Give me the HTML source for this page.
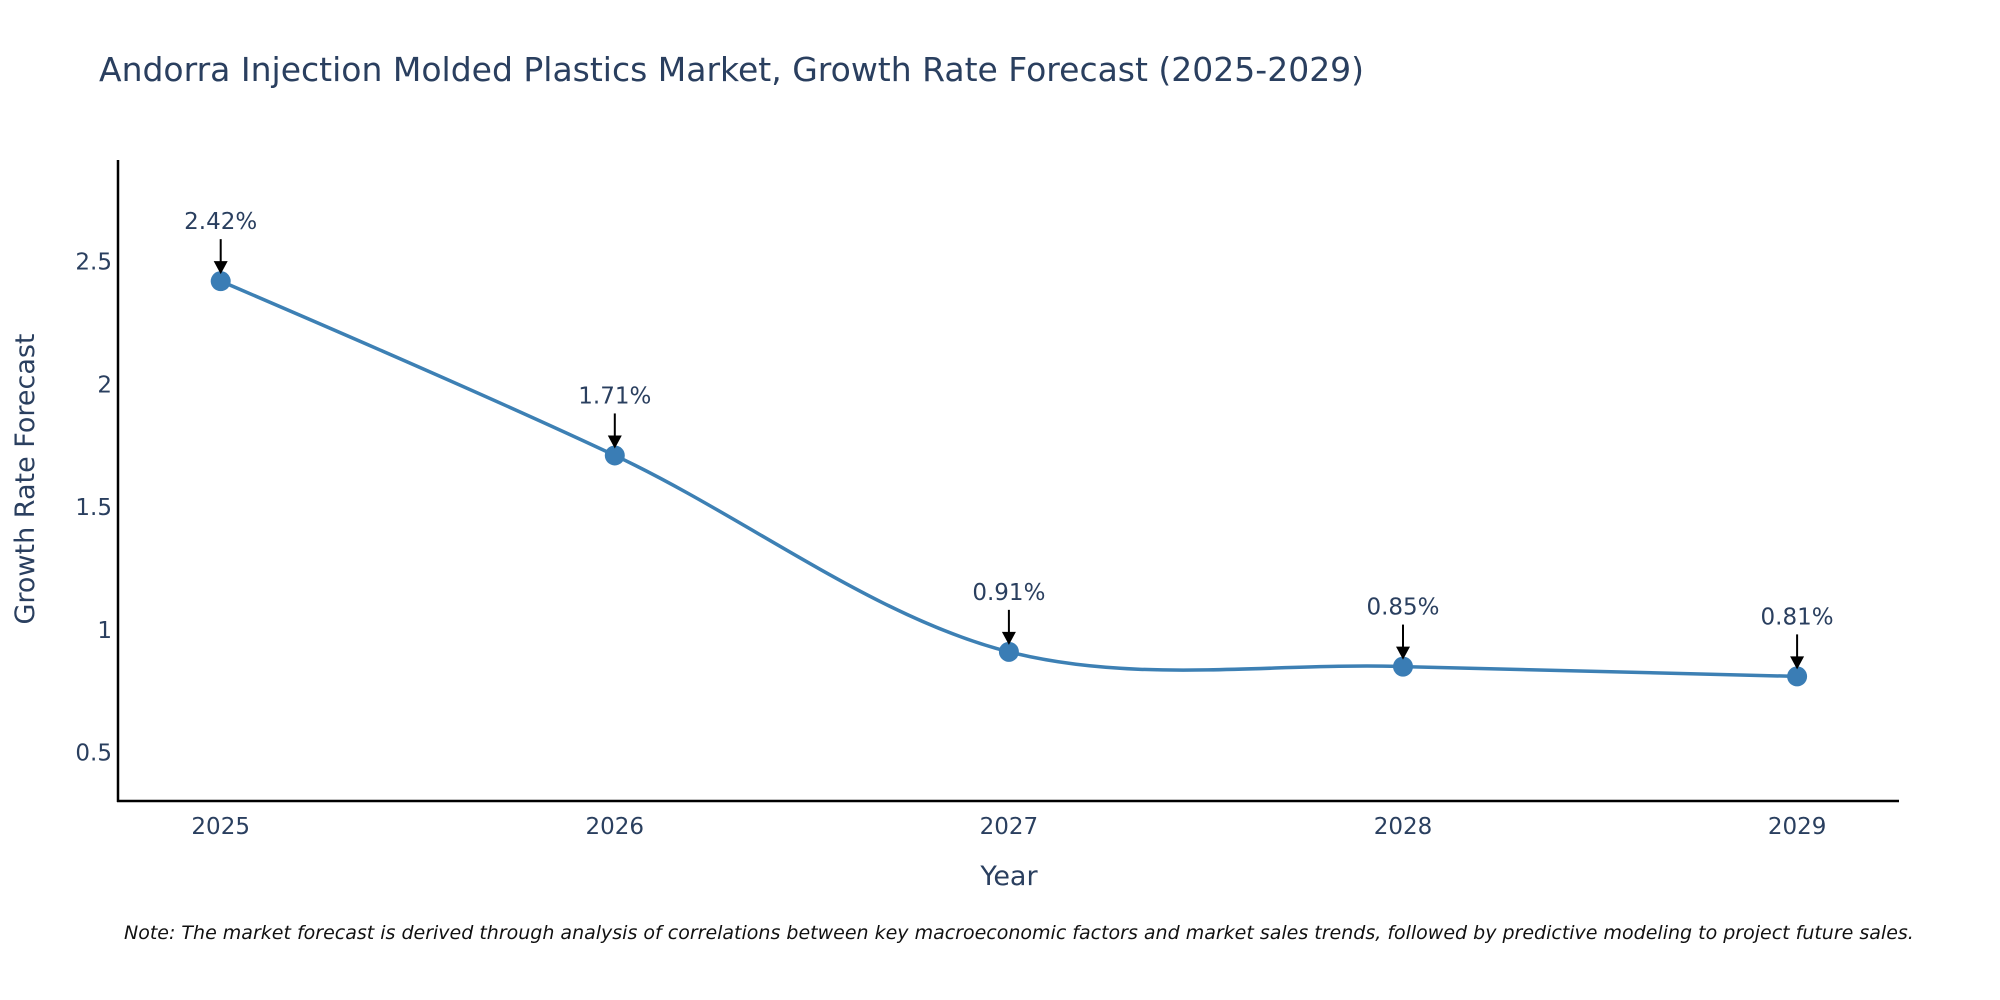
<!DOCTYPE html>
<html><head><meta charset="utf-8"><style>
body{margin:0;background:#fff;overflow:hidden}
svg{display:block;font-family:"DejaVu Sans","Liberation Sans",sans-serif}
</style></head><body>
<svg id="chart" width="2000" height="1000">
<text x="99" y="81" font-size="33" fill="#2a3f5f">Andorra Injection Molded Plastics Market, Growth Rate Forecast (2025-2029)</text>
<g id="yticks"></g><g id="xticks"></g>
<path id="line" fill="none" stroke="#3d80b4" stroke-width="3.5"></path>
<g id="marks"></g>
<line x1="118" y1="160" x2="118" y2="802" stroke="#000" stroke-width="2.5"/>
<line x1="117" y1="801" x2="1899" y2="801" stroke="#000" stroke-width="2.5"/>
<text x="34" y="479" font-size="27" fill="#2a3f5f" text-anchor="middle" transform="rotate(-90 34 479)">Growth Rate Forecast</text>
<text x="1009" y="885" font-size="27" fill="#2a3f5f" text-anchor="middle">Year</text>
<text x="124" y="939" font-size="19" font-style="italic" fill="#111">Note: The market forecast is derived through analysis of correlations between key macroeconomic factors and market sales trends, followed by predictive modeling to project future sales.</text>
</svg>
<script>
const years = [2025, 2026, 2027, 2028, 2029];
const values = [2.42, 1.71, 0.91, 0.85, 0.81];
const labels = ["2.42%", "1.71%", "0.91%", "0.85%", "0.81%"];
const yTicks = [0.5, 1, 1.5, 2, 2.5];
const yTickLabels = ["0.5", "1", "1.5", "2", "2.5"];

const NS = "http://www.w3.org/2000/svg";
const x = v => 220.7 + (v - 2025) * 394.1;
const y = v => 752.5 - (v - 0.5) * 245.5;
function mk(tag, attrs, parent, text) {
  const e = document.createElementNS(NS, tag);
  for (const k in attrs) e.setAttribute(k, attrs[k]);
  if (text !== undefined) e.textContent = text;
  parent.appendChild(e); return e;
}
const yt = document.getElementById('yticks');
yTicks.forEach((t, i) => {
  const e = mk('text', {x: 112, y: y(t) + 8, 'font-size': 23, fill: '#2a3f5f', 'text-anchor': 'end'}, yt, yTickLabels[i]);
  
  
});
const xt = document.getElementById('xticks');
years.forEach(yr => {
  const e = mk('text', {x: x(yr), y: 834, 'font-size': 23, fill: '#2a3f5f', 'text-anchor': 'middle'}, xt, String(yr));
  
  
});
const pts = years.map((yr, i) => [x(yr), y(values[i])]);
function tangent(p, t, n, s) {
  const d1x = p[0]-t[0], d1y = p[1]-t[1], d2x = n[0]-t[0], d2y = n[1]-t[1];
  const d1a = Math.pow(d1x*d1x+d1y*d1y, 0.25), d2a = Math.pow(d2x*d2x+d2y*d2y, 0.25);
  const nx = (d2a*d2a*d1x - d1a*d1a*d2x)*s, ny = (d2a*d2a*d1y - d1a*d1a*d2y)*s;
  const den1 = 3*d2a*(d1a+d2a), den2 = 3*d1a*(d1a+d2a);
  return [[t[0]+nx/den1, t[1]+ny/den1], [t[0]-nx/den2, t[1]-ny/den2]];
}
const tg = [];
for (let i = 1; i < pts.length - 1; i++) tg.push(tangent(pts[i-1], pts[i], pts[i+1], 1));
let d = 'M' + pts[0] + 'Q' + tg[0][0] + ' ' + pts[1];
for (let i = 2; i < pts.length - 1; i++) d += 'C' + tg[i-2][1] + ' ' + tg[i-1][0] + ' ' + pts[i];
d += 'Q' + tg[pts.length-3][1] + ' ' + pts[pts.length-1];
document.getElementById('line').setAttribute('d', d);
const mg = document.getElementById('marks');
pts.forEach((p, i) => {
  const c = mk('circle', {cx: p[0], cy: p[1], r: 10, fill: '#3a7db5'}, mg);
  
  
  const l = mk('line', {x1: p[0], y1: p[1] - 42, x2: p[0], y2: p[1] - 18, stroke: '#000', 'stroke-width': 2}, mg);
  
  
  const h = mk('path', {d: `M${p[0]-7},${p[1]-20}L${p[0]+7},${p[1]-20}L${p[0]},${p[1]-7}Z`, fill: '#000'}, mg);
  
  
  const t = mk('text', {x: p[0], y: p[1] - 52, 'font-size': 23, fill: '#2a3f5f', 'text-anchor': 'middle'}, mg, labels[i]);
  
  
});
</script>
</body></html>
